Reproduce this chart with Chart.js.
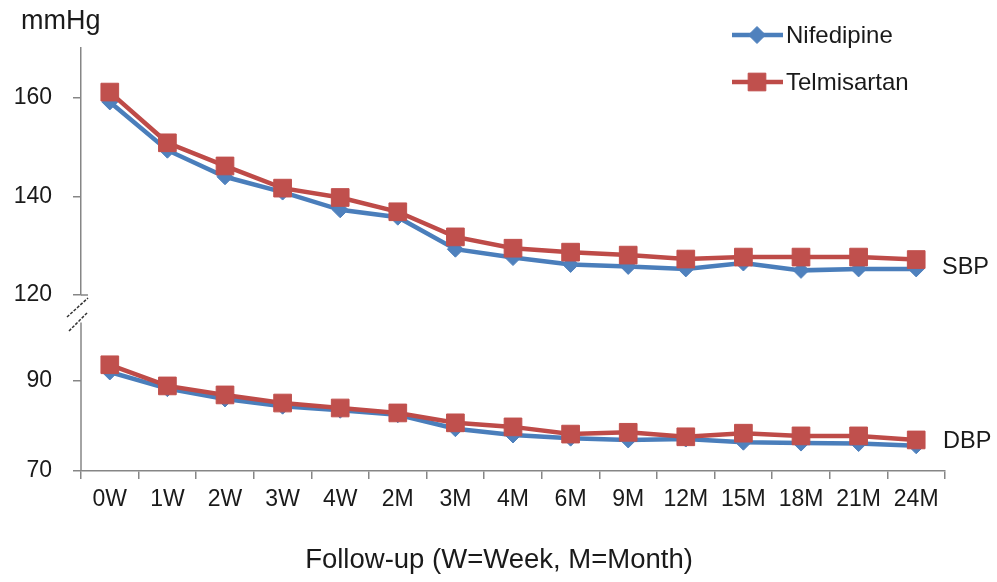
<!DOCTYPE html>
<html><head><meta charset="utf-8">
<script src="https://cdn.jsdelivr.net/npm/chart.js@4.4.1/dist/chart.umd.min.js"></script>
<style>html,body{margin:0;padding:0;background:#fff;}canvas{display:block;}</style>
</head><body>
<canvas id="c" width="997" height="582"></canvas>
<script>
const categories = ['0W','1W','2W','3W','4W','2M','3M','4M','6M','9M','12M','15M','18M','21M','24M'];
const nifedipineSBP = [159.2,149.4,144.0,140.9,137.3,135.8,129.3,127.6,126.2,125.8,125.3,126.5,125.0,125.3,125.3];
const telmisartanSBP = [161.2,150.9,146.2,141.7,139.8,136.9,131.8,129.5,128.7,128.1,127.3,127.7,127.7,127.7,127.2];
const nifedipineDBP = [92.0,88.3,86.0,84.4,83.5,82.5,79.4,78.0,77.3,76.9,77.1,76.4,76.2,76.1,75.6];
const telmisartanDBP = [93.6,88.9,86.9,85.1,84.0,82.9,80.7,79.8,78.2,78.6,77.6,78.4,77.8,77.8,76.9];
const sbpTicks = [120,140,160];
const dbpTicks = [70,90];
const seriesNames = ['Nifedipine','Telmisartan'];

const FONT = "'Liberation Sans', Arial, sans-serif";
const BLUE = '#4A7EBB', BLUE_M = '#4F81BD';
const RED = '#BE4B48', RED_M = '#C0504D';
const AXIS = '#868686';
const TXT = '#1a1a1a';

function ds(label, data, axis, color, mcolor, style, radius, order) {
  return {label, data, yAxisID: axis, borderColor: color, backgroundColor: mcolor,
    borderWidth: 4.5, pointStyle: style, pointRadius: radius, pointHoverRadius: radius,
    pointBackgroundColor: mcolor, pointBorderColor: mcolor, pointBorderWidth: 1,
    tension: 0, fill: false, order};
}

const extras = {
  id: 'extras',
  afterDraw(chart) {
    const ctx = chart.ctx;
    const yS = chart.scales.ySBP, yD = chart.scales.yDBP;
    const ax = yS.right;
    ctx.save();
    // lower axis line (after the break)
    ctx.strokeStyle = AXIS; ctx.lineWidth = 1.5;
    ctx.beginPath();
    ctx.moveTo(ax, yD.getPixelForValue(103));
    ctx.lineTo(ax, yD.bottom);
    ctx.stroke();
    // cross tick at 120
    const y120 = yS.getPixelForValue(sbpTicks[0]);
    ctx.beginPath(); ctx.moveTo(ax, y120); ctx.lineTo(ax + 7, y120); ctx.stroke();
    // break marks
    ctx.strokeStyle = '#333'; ctx.lineWidth = 1.5;
    ctx.setLineDash([3, 1.5]);
    ctx.beginPath();
    ctx.moveTo(ax - 14, y120 + 22); ctx.lineTo(ax + 7, y120 + 3);
    ctx.moveTo(ax - 12, y120 + 36); ctx.lineTo(ax + 7, y120 + 17);
    ctx.stroke();
    ctx.setLineDash([]);
    // legend
    const items = [
      {name: seriesNames[0], color: BLUE, m: BLUE_M, style: 'rectRot', r: 8.5, y: 35},
      {name: seriesNames[1], color: RED, m: RED_M, style: 'rect', r: 12.5, y: 82}
    ];
    ctx.font = '24px ' + FONT;
    ctx.textBaseline = 'middle';
    ctx.textAlign = 'left';
    for (const it of items) {
      ctx.strokeStyle = it.color; ctx.lineWidth = 4.5;
      ctx.beginPath(); ctx.moveTo(732, it.y); ctx.lineTo(783, it.y); ctx.stroke();
      ctx.fillStyle = it.m; ctx.strokeStyle = it.m; ctx.lineWidth = 1;
      Chart.helpers.drawPoint(ctx, {pointStyle: it.style, radius: it.r, rotation: 0, borderWidth: 1}, 757, it.y);
      ctx.fillStyle = TXT;
      ctx.fillText(it.name, 786, it.y + 1);
    }
    // unit + group labels
    ctx.fillStyle = TXT;
    ctx.font = '27px ' + FONT;
    ctx.fillText('mmHg', 21, 22);
    ctx.font = '23.5px ' + FONT;
    ctx.fillText('SBP', 942, 268);
    ctx.fillText('DBP', 943, 442);
    // x title
    ctx.font = '27.5px ' + FONT;
    ctx.textAlign = 'center';
    ctx.fillText('Follow-up (W=Week, M=Month)', 499, 560);
    ctx.restore();
  }
};

const chart = new Chart(document.getElementById('c'), {
  type: 'line',
  data: {
    labels: categories,
    datasets: [
      ds(seriesNames[1], telmisartanSBP, 'ySBP', RED, RED_M, 'rect', 12.5, 0),
      ds(seriesNames[0], nifedipineSBP, 'ySBP', BLUE, BLUE_M, 'rectRot', 8, 1),
      ds(seriesNames[1], telmisartanDBP, 'yDBP', RED, RED_M, 'rect', 12.5, 0),
      ds(seriesNames[0], nifedipineDBP, 'yDBP', BLUE, BLUE_M, 'rectRot', 8, 1)
    ]
  },
  options: {
    responsive: false, animation: false, devicePixelRatio: 1,
    layout: {padding: {top: 48, right: 52, left: 0, bottom: 0}},
    plugins: {legend: {display: false}, tooltip: {enabled: false}, title: {display: false}},
    scales: {
      x: {
        type: 'category', offset: true,
        grid: {display: true, drawOnChartArea: false, drawTicks: true, tickLength: 8, color: AXIS, lineWidth: 1.5, offset: true},
        border: {display: true, color: AXIS, width: 1.5},
        ticks: {font: {size: 23, family: FONT}, color: TXT, padding: 7, maxRotation: 0, autoSkip: false},
        afterFit(s) { s.height = 111; }
      },
      yDBP: {
        type: 'linear', position: 'left', stack: 'bp', stackWeight: 176,
        min: 70, max: 109.1,
        grid: {display: true, drawOnChartArea: false, drawTicks: true, tickLength: 8, color: AXIS, lineWidth: 1.5},
        border: {display: false},
        ticks: {font: {size: 23, family: FONT}, color: TXT, padding: 21, includeBounds: false},
        afterBuildTicks(s) { s.ticks = dbpTicks.map(v => ({value: v})); },
        afterFit(s) { s.width = 81; }
      },
      ySBP: {
        type: 'linear', position: 'left', stack: 'bp', stackWeight: 247,
        min: 120, max: 170.15,
        grid: {display: true, drawOnChartArea: false, drawTicks: true, tickLength: 8, color: AXIS, lineWidth: 1.5},
        border: {display: true, color: AXIS, width: 1.5},
        ticks: {font: {size: 23, family: FONT}, color: TXT, padding: 21, includeBounds: false},
        afterBuildTicks(s) { s.ticks = sbpTicks.map(v => ({value: v})); },
        afterFit(s) { s.width = 81; }
      }
    }
  },
  plugins: [extras]
});
</script>
</body></html>
